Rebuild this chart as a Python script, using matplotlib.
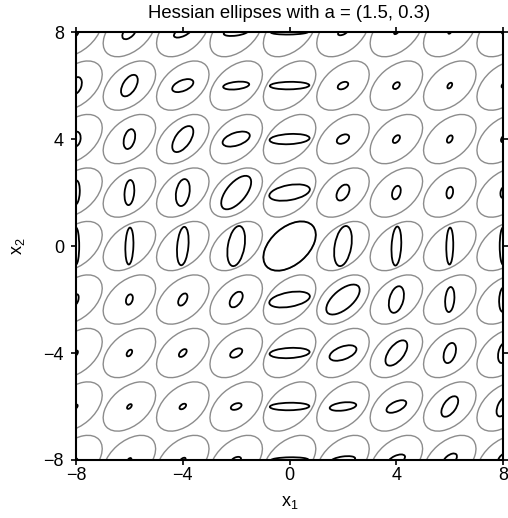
import matplotlib
matplotlib.use("Agg")
import matplotlib.pyplot as plt
from matplotlib.patches import Ellipse
import numpy as np

plt.rcParams["font.family"] = ["Liberation Sans", "DejaVu Sans"]

# grid of ellipse centres
xs = [-8, -6, -4, -2, 0, 2, 4, 6, 8]
ys = [8, 6, 4, 2, 0, -2, -4, -6, -8]   # rows, top to bottom

# reference (gray) ellipse, same at every grid point
ref_semi = (1.15, 0.70)
ref_angle = 41

# Hessian ellipses: semi-major, semi-minor, angle (deg), rows follow ys
semi_major = [
    [0.15, 0.33, 0.36, 0.47, 0.70, 0.20, 0.10, 0.07, 0.06],
    [0.33, 0.45, 0.42, 0.49, 0.74, 0.21, 0.15, 0.12, 0.08],
    [0.28, 0.38, 0.56, 0.53, 0.75, 0.25, 0.17, 0.15, 0.12],
    [0.45, 0.47, 0.51, 0.76, 0.77, 0.33, 0.26, 0.22, 0.20],
    [0.69, 0.69, 0.72, 0.76, 1.15, 0.76, 0.73, 0.69, 0.70],
    [0.20, 0.20, 0.25, 0.33, 0.77, 0.76, 0.51, 0.47, 0.46],
    [0.10, 0.14, 0.18, 0.25, 0.75, 0.53, 0.56, 0.39, 0.38],
    [0.08, 0.11, 0.14, 0.21, 0.74, 0.50, 0.40, 0.44, 0.40],
    [0.06, 0.09, 0.12, 0.19, 0.70, 0.46, 0.35, 0.32, 0.28],
]
semi_minor = [
    [0.09, 0.18, 0.15, 0.13, 0.09, 0.09, 0.05, 0.04, 0.04],
    [0.20, 0.24, 0.20, 0.14, 0.14, 0.12, 0.10, 0.07, 0.05],
    [0.17, 0.20, 0.28, 0.24, 0.19, 0.15, 0.10, 0.09, 0.07],
    [0.14, 0.18, 0.25, 0.36, 0.28, 0.20, 0.15, 0.12, 0.10],
    [0.12, 0.15, 0.21, 0.31, 0.70, 0.31, 0.18, 0.13, 0.13],
    [0.09, 0.12, 0.14, 0.19, 0.27, 0.36, 0.26, 0.17, 0.15],
    [0.06, 0.08, 0.10, 0.14, 0.19, 0.24, 0.28, 0.21, 0.18],
    [0.05, 0.06, 0.08, 0.11, 0.14, 0.15, 0.18, 0.23, 0.20],
    [0.04, 0.05, 0.06, 0.10, 0.10, 0.13, 0.16, 0.17, 0.17],
]
angles = [
    [70, 45, 25, 8, 1, 25, 40, 50, 60],
    [70, 58, 22, 6, 1, 25, 45, 55, 60],
    [80, 75, 55, 18, 3, 28, 50, 60, 65],
    [87, 85, 80, 50, 10, 58, 72, 80, 82],
    [90, 88, 85, 80, 41, 80, 87, 89, 90],
    [75, 72, 60, 55, 10, 40, 75, 85, 87],
    [60, 55, 45, 30, 3, 20, 52, 72, 78],
    [55, 45, 35, 20, 1, 7, 25, 55, 65],
    [55, 45, 35, 22, 1, 8, 25, 40, 55],
]

ticks = [-8, -4, 0, 4, 8]

fig = plt.figure(figsize=(5.08, 5.18), dpi=100)
ax = fig.add_axes([0.1496, 0.112, 0.8409, 0.826])

for i, yc in enumerate(ys):
    for j, xc in enumerate(xs):
        ax.add_patch(Ellipse((xc, yc), 2 * ref_semi[0], 2 * ref_semi[1],
                             angle=ref_angle, fill=False,
                             edgecolor="#8c8c8c", linewidth=1.0))
for i, yc in enumerate(ys):
    for j, xc in enumerate(xs):
        ax.add_patch(Ellipse((xc, yc), 2 * semi_major[i][j], 2 * semi_minor[i][j],
                             angle=angles[i][j], fill=False,
                             edgecolor="black", linewidth=1.3, zorder=3))

ax.set_xlim(-8, 8)
ax.set_ylim(-8, 8)
ax.set_aspect("auto")
ax.set_xticks(ticks)
ax.set_yticks(ticks)
ax.tick_params(direction="out", length=3.6, width=1.2, labelsize=13,
               top=True, right=True)
ax.tick_params(axis="x", pad=1.5)
ax.tick_params(axis="y", pad=5)
for s in ax.spines.values():
    s.set_linewidth(1.5)

ax.set_title("Hessian ellipses with a = (1.5, 0.3)", fontsize=13.3, pad=10)
ax.set_xlabel(r"x$_\mathregular{1}$", fontsize=13, labelpad=7)
ax.set_ylabel(r"x$_\mathregular{2}$", fontsize=13, labelpad=12)

fig.savefig("out.png", dpi=100)
